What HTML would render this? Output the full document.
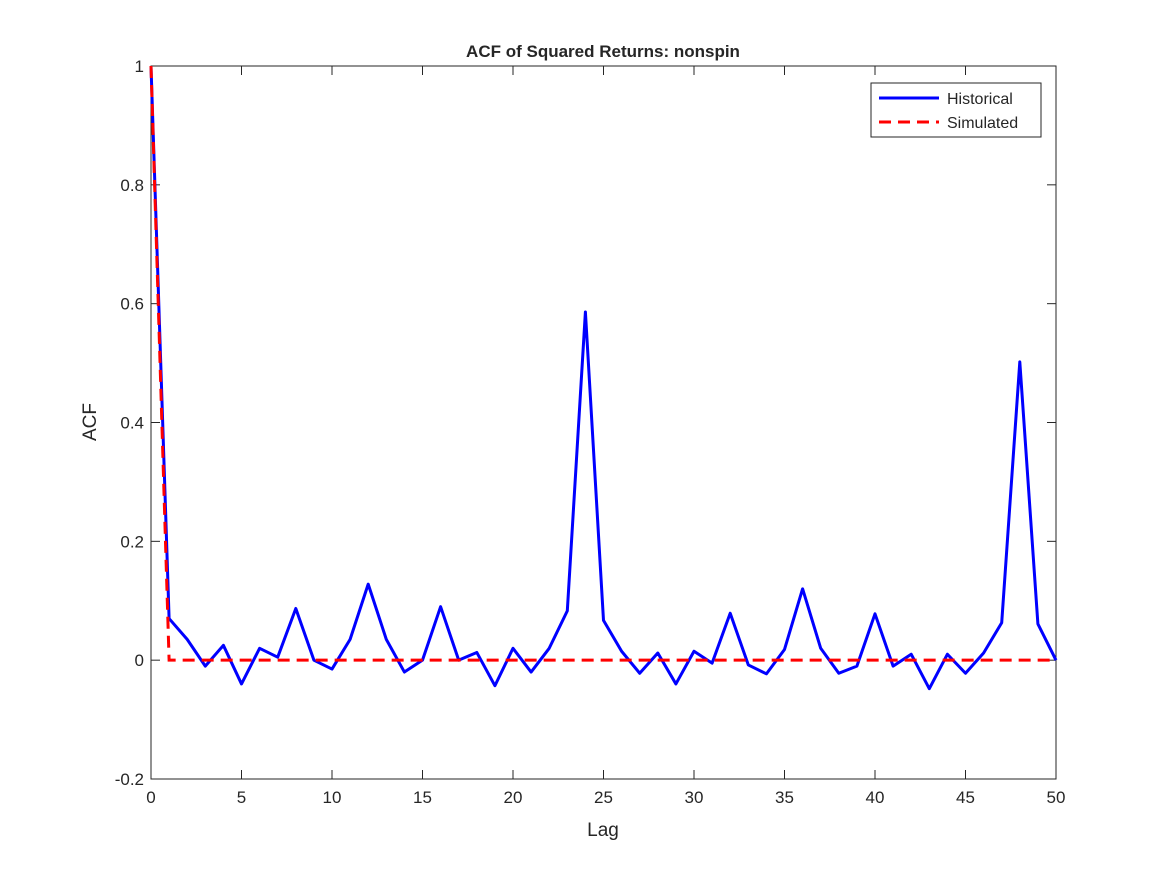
<!DOCTYPE html>
<html><head><meta charset="utf-8"><style>
body{margin:0;background:#fff;}
text{font-family:"Liberation Sans",Arial,sans-serif;fill:#262626;}
</style></head><body>
<svg width="1167" height="875" xmlns="http://www.w3.org/2000/svg">
<rect width="1167" height="875" fill="#fff"/>
<g id="axes"></g>
<g id="series"></g>
<g id="legend">
<rect x="871" y="83" width="170" height="54" fill="#fff" stroke="#262626" stroke-width="1"/>
<line x1="879" y1="98" x2="939" y2="98" stroke="#0000ff" stroke-width="3"/>
<text x="947" y="104" font-size="16">Historical</text>
<line x1="879" y1="122" x2="939" y2="122" stroke="#ff0000" stroke-width="3" stroke-dasharray="12,7"/>
<text x="947" y="128" font-size="16">Simulated</text>
</g>
<text x="603" y="57" font-size="17" font-weight="bold" text-anchor="middle">ACF of Squared Returns: nonspin</text>
<text x="603" y="836" font-size="19" text-anchor="middle">Lag</text>
<text x="96" y="422" font-size="19" text-anchor="middle" transform="rotate(-90 96 422)">ACF</text>
</svg>
<script>
const lags = Array.from({length:51},(_,i)=>i);
const historical = [1,0.07,0.035,-0.01,0.025,-0.04,0.02,0.005,0.087,0.0,-0.015,0.035,0.128,0.035,-0.02,0.0,0.09,0.0,0.013,-0.043,0.02,-0.02,0.02,0.083,0.586,0.067,0.015,-0.022,0.012,-0.04,0.015,-0.005,0.079,-0.008,-0.023,0.018,0.12,0.02,-0.022,-0.01,0.078,-0.01,0.01,-0.048,0.01,-0.022,0.012,0.063,0.502,0.061,0.0];
const simulated = [1,0,0,0,0,0,0,0,0,0,0,0,0,0,0,0,0,0,0,0,0,0,0,0,0,0,0,0,0,0,0,0,0,0,0,0,0,0,0,0,0,0,0,0,0,0,0,0,0,0,0];
const xTicks = [0,5,10,15,20,25,30,35,40,45,50];
const yTicks = [-0.2,0,0.2,0.4,0.6,0.8,1];
const yTickLabels = ['-0.2','0','0.2','0.4','0.6','0.8','1'];
const L=151,R=1056,T=66,B=779;
const xs=v=>L+(v-0)/(50-0)*(R-L);
const ys=v=>B-(v+0.2)/1.2*(B-T);
const NS='http://www.w3.org/2000/svg';
const ax=document.getElementById('axes'), se=document.getElementById('series');
function mk(tag,attrs,parent){const e=document.createElementNS(NS,tag);for(const k in attrs)e.setAttribute(k,attrs[k]);parent.appendChild(e);return e;}
const box=mk('rect',{x:L,y:T,width:R-L,height:B-T,fill:'none',stroke:'#262626','stroke-width':1},ax);


xTicks.forEach(t=>{const x=xs(t);
mk('line',{x1:x,y1:B,x2:x,y2:B-9,stroke:'#262626'},ax);
mk('line',{x1:x,y1:T,x2:x,y2:T+9,stroke:'#262626'},ax);
const tx=mk('text',{x:x,y:B+24,'font-size':17,'text-anchor':'middle'},ax);tx.textContent=t;

});
yTicks.forEach((t,i)=>{const y=ys(t);
mk('line',{x1:L,y1:y,x2:L+9,y2:y,stroke:'#262626'},ax);
mk('line',{x1:R,y1:y,x2:R-9,y2:y,stroke:'#262626'},ax);
const tx=mk('text',{x:L-7,y:y+6,'font-size':17,'text-anchor':'end'},ax);tx.textContent=yTickLabels[i];

});
const hp=mk('polyline',{points:lags.map((l,i)=>xs(l)+','+ys(historical[i])).join(' '),fill:'none',stroke:'#0000ff','stroke-width':3,'stroke-linejoin':'round'},se);


const sp=mk('polyline',{points:lags.map((l,i)=>xs(l)+','+ys(simulated[i])).join(' '),fill:'none',stroke:'#ff0000','stroke-width':3,'stroke-dasharray':'12,7'},se);


</script>
</body></html>
